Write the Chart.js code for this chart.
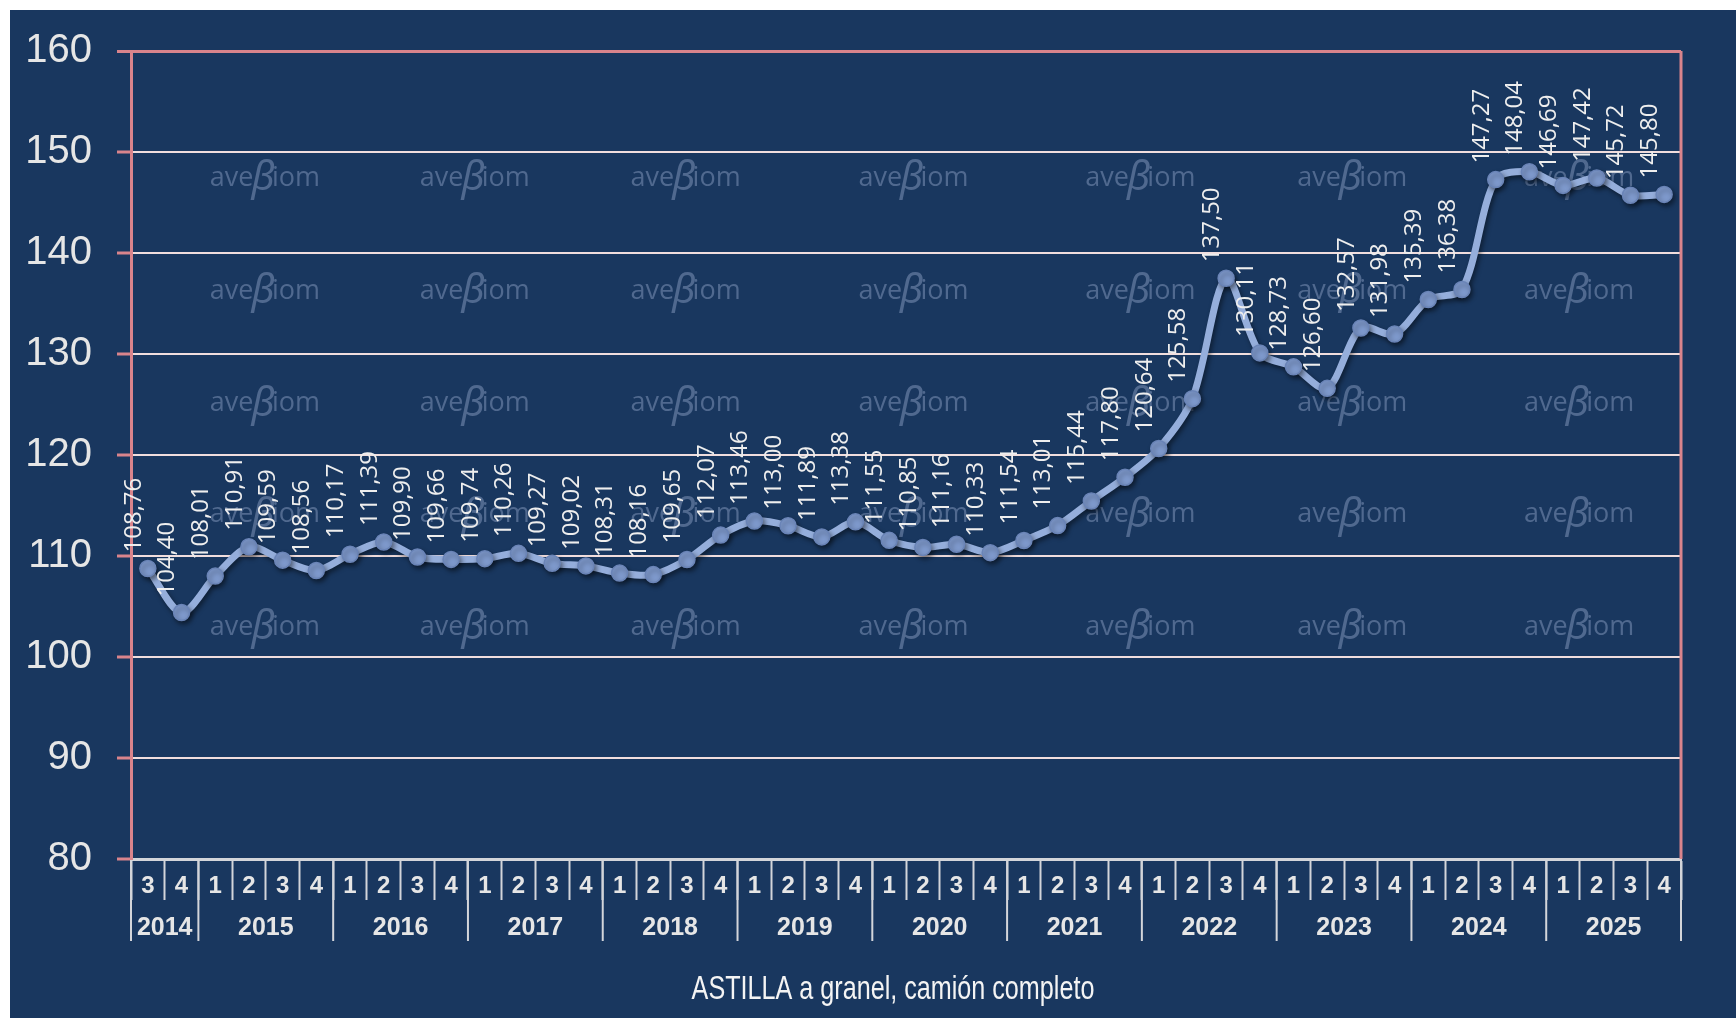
<!DOCTYPE html>
<html>
<head>
<meta charset="utf-8">
<title>ASTILLA a granel</title>
<script src="https://cdn.jsdelivr.net/npm/chart.js@4.4.1/dist/chart.umd.min.js"></script>
<style>
    html, body { margin: 0; background: #fff; }
    #wrap { position: absolute; left: 10px; top: 10px; width: 1726px; height: 1008px; background: #19375f; }
</style>
</head>
<body>
<div id="wrap"><canvas id="priceChart"></canvas></div>
<script>
// --- data ---
const years = ['2014', '2015', '2016', '2017', '2018', '2019', '2020', '2021', '2022', '2023', '2024', '2025'];
const quartersPerYear = [2, 4, 4, 4, 4, 4, 4, 4, 4, 4, 4, 4];
const quarters = [
    '3', '4',
    '1', '2', '3', '4',
    '1', '2', '3', '4',
    '1', '2', '3', '4',
    '1', '2', '3', '4',
    '1', '2', '3', '4',
    '1', '2', '3', '4',
    '1', '2', '3', '4',
    '1', '2', '3', '4',
    '1', '2', '3', '4',
    '1', '2', '3', '4',
    '1', '2', '3', '4'
];
const prices = [
    108.76, 104.40,
    108.01, 110.91, 109.59, 108.56,
    110.17, 111.39, 109.90, 109.66,
    109.74, 110.26, 109.27, 109.02,
    108.31, 108.16, 109.65, 112.07,
    113.46, 113.00, 111.89, 113.38,
    111.55, 110.85, 111.16, 110.33,
    111.54, 113.01, 115.44, 117.80,
    120.64, 125.58, 137.50, 130.11,
    128.73, 126.60, 132.57, 131.98,
    135.39, 136.38, 147.27, 148.04,
    146.69, 147.42, 145.72, 145.80
];
const yMin = 80;
const yMax = 160;
const yStep = 10;
const chartTitle = 'ASTILLA a granel, camión completo';

const PINK = '#d9848c';
const GRID = '#f1dede';
const AXIS_GRAY = '#d3d5da';
const TEXT = '#e6e6e6';

// watermark grid, as fractions of the plot area
const markCols = [0.0864, 0.2218, 0.3578, 0.5048, 0.6512, 0.7879, 0.9343];
const markRows = [0.157, 0.297, 0.436, 0.574, 0.713];

const watermark = {
    id: 'watermark',
    beforeDatasetsDraw(chart) {
        const { ctx, chartArea: a } = chart;
        const small = '27px "Open Sans", sans-serif';
        const beta = 'italic 40px "Noto Sans", sans-serif';
        ctx.save();
        ctx.fillStyle = '#50698f';
        ctx.textAlign = 'left';
        ctx.textBaseline = 'middle';
        ctx.font = small;
        const wAve = ctx.measureText('ave').width;
        const wIom = ctx.measureText('iom').width;
        ctx.font = beta;
        const wB = ctx.measureText('β').width * 0.8;
        const total = wAve + wB + wIom;
        markRows.forEach(fy => {
            markCols.forEach(fx => {
                const cx = a.left + fx * a.width;
                const cy = a.top + fy * a.height;
                let xx = cx - total / 2;
                ctx.font = small;
                ctx.fillText('ave', xx, cy);
                xx += wAve;
                ctx.font = beta;
                ctx.fillText('β', xx - 2, cy + 1);
                xx += wB;
                ctx.font = small;
                ctx.fillText('iom', xx, cy);
            });
        });
        ctx.restore();
    }
};

const frame = {
    id: 'frame',
    afterDatasetsDraw(chart) {
        const { ctx, chartArea: a } = chart;
        ctx.save();
        ctx.strokeStyle = PINK;
        ctx.lineWidth = 3;
        ctx.beginPath();
        ctx.moveTo(a.right, a.top);
        ctx.lineTo(a.right, a.bottom);
        ctx.stroke();
        ctx.restore();
    }
};

const lineShadow = {
    id: 'lineShadow',
    beforeDatasetDraw(chart) {
        const ctx = chart.ctx;
        ctx.save();
        ctx.shadowColor = 'rgba(0, 0, 0, 0.45)';
        ctx.shadowBlur = 5;
        ctx.shadowOffsetX = 2;
        ctx.shadowOffsetY = 3;
    },
    afterDatasetDraw(chart) {
        chart.ctx.restore();
    }
};

const valueLabels = {
    id: 'valueLabels',
    afterDatasetsDraw(chart) {
        const ctx = chart.ctx;
        const points = chart.getDatasetMeta(0).data;
        ctx.save();
        ctx.fillStyle = '#eeeeee';
        ctx.font = '24px "Open Sans", sans-serif';
        ctx.textAlign = 'left';
        ctx.textBaseline = 'middle';
        points.forEach((pt, i) => {
            ctx.save();
            ctx.translate(pt.x - 14, pt.y - 16);
            ctx.rotate(-Math.PI / 2);
            ctx.fillText(prices[i].toFixed(2).replace('.', ','), 0, 0);
            ctx.restore();
        });
        ctx.restore();
    }
};

// second row of the category axis (years + separators) and the condensed title
const yearRow = {
    id: 'yearRow',
    afterDraw(chart) {
        const { ctx, chartArea: a } = chart;
        const x = chart.scales.x;
        const step = x.getPixelForValue(1) - x.getPixelForValue(0);
        const top = a.bottom;
        ctx.save();
        ctx.strokeStyle = AXIS_GRAY;
        ctx.lineWidth = 2;
        ctx.fillStyle = TEXT;
        ctx.font = 'bold 25px "Liberation Sans", Arial, sans-serif';
        ctx.textAlign = 'center';
        ctx.textBaseline = 'middle';
        let start = 0;
        years.forEach((yr, k) => {
            const end = start + quartersPerYear[k] - 1;
            const left = x.getPixelForValue(start) - step / 2;
            const right = x.getPixelForValue(end) + step / 2;
            ctx.beginPath();
            ctx.moveTo(left, top + 2);
            ctx.lineTo(left, top + 82);
            if (k === years.length - 1) {
                ctx.moveTo(right, top + 2);
                ctx.lineTo(right, top + 82);
            }
            ctx.stroke();
            const mid = (x.getPixelForValue(start) + x.getPixelForValue(end)) / 2;
            ctx.fillText(yr, mid, top + 69);
            start = end + 1;
        });

        // title: no narrow face installed, so squeeze Liberation Sans horizontally
        ctx.fillStyle = '#f4f4f4';
        ctx.font = '34px "Liberation Sans", Arial, sans-serif';
        ctx.translate((a.left + a.right) / 2 - 13, top + 131);
        ctx.scale(0.74, 1);
        ctx.fillText(chartTitle, 0, 0);
        ctx.restore();
    }
};

const ctx = document.getElementById('priceChart').getContext('2d');
new Chart(ctx, {
    type: 'line',
    data: {
        labels: quarters,
        datasets: [{
            data: prices,
            borderColor: '#95aedb',
            borderWidth: 7,
            tension: 0.3,
            pointRadius: 8,
            pointBackgroundColor: '#7e99cc',
            pointBorderColor: '#6a84b7',
            pointBorderWidth: 1.5,
            fill: false
        }]
    },
    options: {
        responsive: true,
        maintainAspectRatio: false,
        animation: false,
        layout: { padding: { top: 41, right: 55, left: 0, bottom: 0 } },
        plugins: {
            legend: { display: false },
            tooltip: { enabled: false }
        },
        scales: {
            x: {
                type: 'category',
                offset: true,
                grid: {
                    offset: true,
                    drawOnChartArea: false,
                    drawTicks: true,
                    tickLength: 41,
                    tickColor: AXIS_GRAY,
                    tickWidth: 2
                },
                border: { color: AXIS_GRAY, width: 3 },
                ticks: {
                    color: TEXT,
                    font: { family: '"Liberation Sans", Arial, sans-serif', size: 24, weight: 'bold' },
                    padding: -28,
                    autoSkip: false,
                    maxRotation: 0
                },
                afterFit(scale) { scale.height = 159; }
            },
            y: {
                min: yMin,
                max: yMax,
                ticks: {
                    stepSize: yStep,
                    color: TEXT,
                    font: { family: '"Liberation Sans", Arial, sans-serif', size: 40 },
                    padding: 25
                },
                grid: {
                    color: c => c.tick.value === yMax ? PINK : (c.tick.value === yMin ? 'rgba(0,0,0,0)' : GRID),
                    lineWidth: c => c.tick.value === yMax ? 3 : 2,
                    tickColor: PINK,
                    tickLength: 14,
                    tickWidth: 3
                },
                border: { color: PINK, width: 3 },
                afterFit(scale) {
                    scale.width = 121;
                    scale.paddingTop = 0;
                    scale.paddingBottom = 0;
                }
            }
        }
    },
    plugins: [watermark, lineShadow, valueLabels, frame, yearRow]
});
</script>
</body>
</html>
